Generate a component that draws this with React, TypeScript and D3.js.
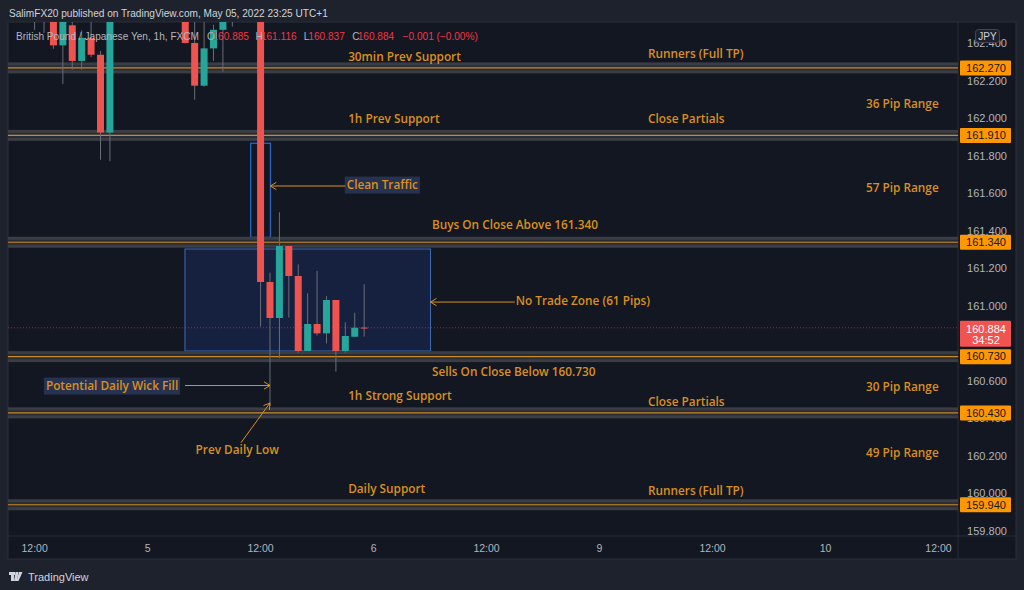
import React from 'react';
import * as d3 from 'd3';

const W = 1024;
const H = 590;

// Candle data (GBP/JPY 1h, FXCM) — bar 0 = May 4 12:00
const opens = [162.58, 162.55, 162.60, 162.39, 162.497, 162.307, 162.43, 162.34, 161.925, 162.72, 162.80, 162.74, 162.66, 162.71, 162.60, 162.64, 162.58, 162.403, 162.175, 162.374, 162.473, 162.56, 162.62, 162.66, 162.60, 161.128, 160.936, 161.32, 161.16, 160.76, 160.904, 160.854, 161.032, 160.76, 160.836, 160.885];
const highs = [162.70, 162.68, 162.64, 162.62, 162.53, 162.47, 162.52, 162.36, 162.78, 162.85, 162.88, 162.79, 162.76, 162.74, 162.69, 162.70, 162.62, 162.53, 162.53, 162.50, 162.62, 162.70, 162.74, 162.72, 162.66, 161.178, 161.50, 161.32, 161.222, 161.068, 161.187, 161.053, 161.032, 160.913, 160.964, 161.116];
const lows = [162.472, 162.456, 162.372, 162.184, 162.26, 162.26, 162.328, 161.78, 161.772, 162.64, 162.70, 162.62, 162.58, 162.56, 162.55, 162.53, 162.40, 162.10, 162.17, 162.307, 162.25, 162.49, 162.55, 162.54, 160.89, 160.467, 160.721, 160.938, 160.751, 160.76, 160.842, 160.80, 160.65, 160.751, 160.836, 160.837];
const closes = [162.55, 162.60, 162.39, 162.58, 162.307, 162.43, 162.34, 161.925, 162.72, 162.80, 162.74, 162.66, 162.71, 162.60, 162.64, 162.58, 162.403, 162.175, 162.374, 162.473, 162.56, 162.62, 162.66, 162.60, 161.128, 160.936, 161.32, 161.16, 160.76, 160.904, 160.854, 161.032, 160.76, 160.84, 160.884, 160.884];

const xTickBars = [0, 12, 24, 36, 48, 60, 72, 84, 96];
const xTickLabels = ['12:00', '5', '12:00', '6', '12:00', '9', '12:00', '10', '12:00'];
const yTicks = [159.8, 160.0, 160.2, 160.4, 160.6, 161.0, 161.2, 161.4, 161.6, 161.8, 162.0, 162.2, 162.4];
const levels = [162.27, 161.91, 161.34, 160.73, 160.43, 159.94];
const lastPrice = 160.884;
const countdown = '34:52';

// Legend: [label, value]
const legendItems: [string, string][] = [
  ['O', '160.885'],
  ['H', '161.116'],
  ['L', '160.837'],
  ['C', '160.884'],
];
const legendChange = '−0.001 (−0.00%)';

// Annotation texts: [text, bar, price]
const levelTexts: [string, number, number][] = [
  ['30min Prev Support', 33.3, 162.328],
  ['Runners (Full TP)', 65.15, 162.344],
  ['36 Pip Range', 88.3, 162.077],
  ['1h Prev Support', 33.3, 161.997],
  ['Close Partials', 65.15, 161.997],
  ['57 Pip Range', 88.3, 161.629],
  ['Buys On Close Above 161.340', 42.2, 161.432],
  ['Sells On Close Below 160.730', 42.2, 160.648],
  ['30 Pip Range', 88.3, 160.568],
  ['1h Strong Support', 33.3, 160.52],
  ['Close Partials', 65.15, 160.488],
  ['49 Pip Range', 88.3, 160.216],
  ['Daily Support', 33.3, 160.024],
  ['Runners (Full TP)', 65.15, 160.013],
];

// Arrow annotations: [label, boxed, labelBar, labelPrice, fromBar, fromPrice, toBar, toPrice]
const arrowNotes: [string, boolean, number, number, number, number, number, number][] = [
  ['Clean Traffic', true, 33.15, 161.645, 33.0, 161.64, 25.04, 161.64],
  ['No Trade Zone (61 Pips)', false, 51.1, 161.027, 51.0, 161.021, 42.05, 161.021],
  ['Potential Daily Wick Fill', true, 1.2, 160.573, 15.97, 160.576, 25.0, 160.576],
  ['Prev Daily Low', false, 17.1, 160.232, 21.92, 160.271, 25.0, 160.483],
];

// Rectangles: [bar0, bar1, priceTop, priceBottom, filled]
const boxes: [number, number, number, number, boolean][] = [
  [15.97, 42.05, 161.304, 160.76, true],
  [22.95, 25.05, 161.868, 161.366, false],
];

const PL = 8, PR = 958, PT = 22, PB = 536;
const BG_OUT = '#1e222d';
const BG = '#131722';
const ORANGE = '#d9901f';
const UP = '#26a69a';
const DOWN = '#ef5350';
const AXIS_TXT = '#b2b5be';
const FONT = '"Liberation Sans", Arial, sans-serif';
const AFONT = '"Open Sans", "Noto Sans", sans-serif';
const AFS = 11.8;

let ctx: CanvasRenderingContext2D | null = null;
function measure(text: string, font: string) {
  if (!ctx && typeof document !== 'undefined') ctx = document.createElement('canvas').getContext('2d');
  if (!ctx) return text.length * 6;
  ctx.font = font;
  return ctx.measureText(text).width;
}

export default function App() {
  const x = d3.scaleLinear().domain([0, 96]).range([34.6, 938.5]);
  const y = d3.scaleLinear().domain([161, 162]).range([306, 118.5]);
  const bw = 7;

  const chevron = (x1: number, y1: number, x2: number, y2: number) => {
    const ang = Math.atan2(y1 - y2, x1 - x2);
    const L = 7, a = 0.55;
    return `M${x2 + L * Math.cos(ang + a)},${y2 + L * Math.sin(ang + a)} L${x2},${y2} L${x2 + L * Math.cos(ang - a)},${y2 + L * Math.sin(ang - a)}`;
  };

  const LFS = 10.1;
  const legendBase = 'British Pound / Japanese Yen, 1h, FXCM';
  // legend layout: label/value pairs laid out left to right
  const legendX0 = 207;
  const pairStep = 48.4;
  const legendParts: { x: number; t: string; red: boolean }[] = [];
  legendItems.forEach(([k, v], i) => {
    const bx = legendX0 + i * pairStep;
    legendParts.push({ x: bx, t: k, red: false });
    legendParts.push({ x: bx + (k === 'L' ? 4.5 : 5.5), t: v, red: true });
  });
  legendParts.push({ x: legendX0 + 4 * pairStep + 2, t: legendChange, red: true });

  const afont = `600 ${AFS}px "Open Sans", "Noto Sans", sans-serif`;

  return (
    <svg width={W} height={H} style={{ position: 'absolute', left: 0, top: 0, display: 'block' }}>
      <defs>
        <clipPath id="plot"><rect x={PL} y={PT} width={PR - PL} height={PB - PT} /></clipPath>
      </defs>
      <rect x={0} y={0} width={W} height={H} fill={BG_OUT} />
      <rect x={PL} y={PT} width={1016 - PL} height={559 - PT} fill={BG} stroke="#2a2e39" />
      <line x1={PR} x2={PR} y1={PT} y2={559} stroke="#2a2e39" />
      <line x1={PL} x2={1016} y1={PB} y2={PB} stroke="#2a2e39" />

      {/* header */}
      <text x={9} y={16.5} fill="#d1d4dc" fontFamily={FONT} fontSize={10.1}>SalimFX20 published on TradingView.com, May 05, 2022 23:25 UTC+1</text>

      <g clipPath="url(#plot)">
        {/* boxes */}
        {boxes.map((b, i) => (
          <rect key={'b' + i} x={x(b[0])} y={y(b[2])} width={x(b[1]) - x(b[0])} height={y(b[3]) - y(b[2])}
            fill={b[4] ? 'rgba(41,98,255,0.13)' : 'none'} stroke={b[4] ? '#3d6db5' : '#2468c4'} strokeWidth={b[4] ? 1 : 1.3} />
        ))}
        {/* levels */}
        {levels.map((p, i) => (
          <g key={'l' + i}>
            <rect x={PL} y={y(p) - 5.5} width={PR - PL} height={11} fill="#3b3d45" />
            <rect x={PL} y={y(p) - 2.5} width={PR - PL} height={5} fill="#2a2c33" />
            <line x1={PL} x2={PR} y1={y(p)} y2={y(p)} stroke="#c98a2a" strokeWidth={1.2} />
          </g>
        ))}
        {/* last price dotted line */}
        <line x1={PL} x2={PR} y1={y(lastPrice)} y2={y(lastPrice)} stroke="#f23645" strokeOpacity={0.6} strokeDasharray="1,2" />
        {/* candles */}
        {opens.map((o, i) => {
          const c = closes[i];
          const up = c >= o;
          const top = y(Math.max(o, c));
          const bot = y(Math.min(o, c));
          return (
            <g key={'c' + i}>
              <line x1={x(i)} x2={x(i)} y1={y(highs[i])} y2={y(lows[i])} stroke="#6a6d78" strokeWidth={1} />
              <rect x={x(i) - bw / 2} y={top} width={bw} height={Math.max(1, bot - top)} fill={up ? UP : DOWN} />
            </g>
          );
        })}
        {/* level texts */}
        {levelTexts.map((t, i) => (
          <text key={'t' + i} x={x(t[1])} y={y(t[2])} dy="0.35em" fill={ORANGE} fontFamily={AFONT} fontWeight={600} fontSize={AFS}>{t[0]}</text>
        ))}
        {/* arrows */}
        {arrowNotes.map((a, i) => {
          const lx0 = x(a[2]), ly = y(a[3]);
          const fx = x(a[4]), fy = y(a[5]), tx = x(a[6]), ty = y(a[7]);
          const tw = measure(a[0], afont);
          return (
            <g key={'a' + i}>
              {a[1] && <rect x={lx0 - 2} y={ly - 8.5} width={tw + 4} height={17} fill="#26324f" />}
              <text x={lx0} y={ly} dy="0.35em" fill={ORANGE} fontFamily={AFONT} fontWeight={600} fontSize={AFS}>{a[0]}</text>
              <line x1={fx} y1={fy} x2={tx} y2={ty} stroke={ORANGE} strokeWidth={1} />
              <path d={chevron(fx, fy, tx, ty)} fill="none" stroke={ORANGE} strokeWidth={1} />
            </g>
          );
        })}
        {/* legend */}
        <text x={16} y={40} fontFamily={FONT} fontSize={LFS} fill={AXIS_TXT} textLength={183} lengthAdjust="spacingAndGlyphs">{legendBase}</text>
        {legendParts.map((p, i) => (
          <text key={'lg' + i} x={p.x} y={40} fontFamily={FONT} fontSize={LFS} fill={p.red ? '#f23645' : AXIS_TXT}>{p.t}</text>
        ))}
      </g>

      {/* y axis */}
      {yTicks.map((p, i) => (
        <text key={'y' + i} x={987} y={y(p)} dy="0.35em" textAnchor="middle" fill={AXIS_TXT} fontFamily={FONT} fontSize={11}>{p.toFixed(3)}</text>
      ))}
      {levels.map((p, i) => (
        <g key={'yl' + i}>
          <rect x={960} y={y(p) - 7.5} width={51} height={15} fill="#ff9800" rx={1} />
          <text x={986} y={y(p)} dy="0.35em" textAnchor="middle" fill="#131722" fontFamily={FONT} fontSize={11}>{p.toFixed(3)}</text>
        </g>
      ))}
      <rect x={960} y={y(lastPrice) - 7} width={51} height={26} fill="#f05350" rx={1} />
      <text x={986} y={y(lastPrice) + 1} dy="0.35em" textAnchor="middle" fill="#ffffff" fontFamily={FONT} fontSize={11}>{lastPrice.toFixed(3)}</text>
      <text x={986} y={y(lastPrice) + 12.5} dy="0.35em" textAnchor="middle" fill="#ffffff" fontFamily={FONT} fontSize={11}>{countdown}</text>
      <rect x={975.5} y={29.5} width={24} height={13} rx={3} fill="#1e222d" stroke="#434651" />
      <text x={987.5} y={36} dy="0.35em" textAnchor="middle" fill="#d1d4dc" fontFamily={FONT} fontSize={10}>JPY</text>

      {/* x axis */}
      {xTickBars.map((b, i) => (
        <text key={'x' + i} x={x(b)} y={548} dy="0.35em" textAnchor="middle" fill={AXIS_TXT} fontFamily={FONT} fontSize={10.5}>{xTickLabels[i]}</text>
      ))}

      {/* footer logo */}
      <g fill="#d1d4dc">
        <rect x={9} y={572} width={6} height={3} />
        <rect x={11} y={572} width={3} height={9} />
        <path d="M15.5,572 h3 l-1.5,9 h-3 z" />
        <path d="M19,572 h3.5 l-4,9 h-2 z" />
      </g>
      <text x={28} y={577} dy="0.35em" fill="#d1d4dc" fontFamily={FONT} fontSize={11}>TradingView</text>
    </svg>
  );
}
